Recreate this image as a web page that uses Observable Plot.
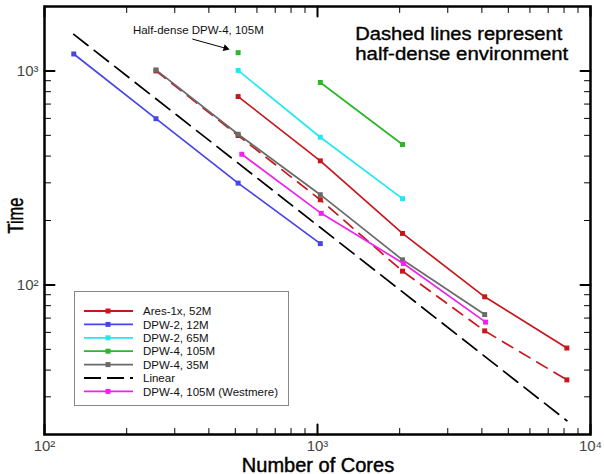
<!DOCTYPE html>
<html><head><meta charset="utf-8">
<script src="https://cdn.jsdelivr.net/npm/d3@7"></script>
<script src="https://cdn.jsdelivr.net/npm/@observablehq/plot@0.6"></script>
<style>
body{margin:0;background:#fff;font-family:"Liberation Sans",Arial,sans-serif}
#wrap{position:relative;width:604px;height:474px;overflow:hidden}
#legend{position:absolute;left:74px;top:291px}
</style></head><body><div id="wrap"></div>
<script>
// ---- data ----
const aresCores = [512, 1024, 2048, 4096, 8192];
const aresTime = [759, 380, 174, 88, 50.7];
const aresHalfCores = [256, 512, 1024, 2048, 4096, 8192];
const aresHalfTime = [1000, 499, 250, 116, 61, 36];
const dpw2_12Cores = [128, 256, 512, 1024];
const dpw2_12Time = [1200, 598, 299, 156];
const dpw2_65Cores = [512, 1024, 2048];
const dpw2_65Time = [1005, 490, 253];
const dpw4_105Cores = [1024, 2048];
const dpw4_105Time = [883, 453];
const dpw4_105HalfCores = [512];
const dpw4_105HalfTime = [1217];
const dpw4_35Cores = [256, 512, 1024, 2048, 4096];
const dpw4_35Time = [1011, 506, 264, 131, 72.7];
const linearCores = [128, 8192];
const linearTime = [1482, 23.2];
const westCores = [528, 1032, 2064, 4128];
const westTime = [408, 216, 126, 67];

const legendNames = ["Ares-1x, 52M", "DPW-2, 12M", "DPW-2, 65M", "DPW-4, 105M", "DPW-4, 35M", "Linear", "DPW-4, 105M (Westmere)"];
const legendColors = ["#c8161d", "#4646e6", "#22e8f2", "#28b828", "#6a6a6a", "#000000", "#ee22ee"];

const xMajor = [100, 1000, 10000];
const xMinor = [200, 300, 400, 500, 600, 700, 800, 900, 2000, 3000, 4000, 5000, 6000, 7000, 8000, 9000];
const yMajor = [100, 1000];
const yMinor = [20, 30, 40, 50, 60, 70, 80, 90, 200, 300, 400, 500, 600, 700, 800, 900];
const supers = {"2": "\u00b2", "3": "\u00b3", "4": "\u2074"};

const xTitle = "Number of Cores";
const yTitle = "Time";
const annoLine1 = "Dashed lines represent";
const annoLine2 = "half-dense environment";
const annoLine1Pos = {x: 1375, y: 1486};
const annoLine2Pos = {x: 1375, y: 1200};
const annoHalf = "Half-dense DPW-4, 105M";
const annoHalfPos = {x: 366, y: 1551};
const arrowFrom = {x: 348, y: 1409};
const arrowTo = {x: 455, y: 1282};
const arrowHeadPos = {x: 461, y: 1276};

// ---- series table ----
const series = [
  {cores: aresCores, time: aresTime, color: legendColors[0], dash: null, marker: true},
  {cores: aresHalfCores, time: aresHalfTime, color: legendColors[0], dash: "12,8", marker: true},
  {cores: dpw2_12Cores, time: dpw2_12Time, color: legendColors[1], dash: null, marker: true},
  {cores: dpw2_65Cores, time: dpw2_65Time, color: legendColors[2], dash: null, marker: true},
  {cores: dpw4_105Cores, time: dpw4_105Time, color: legendColors[3], dash: null, marker: true},
  {cores: dpw4_105HalfCores, time: dpw4_105HalfTime, color: legendColors[3], dash: null, marker: true},
  {cores: dpw4_35Cores, time: dpw4_35Time, color: legendColors[4], dash: null, marker: true},
  {cores: linearCores, time: linearTime, color: legendColors[5], dash: "18,8", marker: false},
  {cores: westCores, time: westTime, color: legendColors[6], dash: null, marker: true}
];

const tickLine = {draw(context, l) { context.moveTo(0, 0); context.lineTo(0, -l); }};
const fmt = d => "10" + supers[String(Math.round(Math.log10(d)))];

const marks = [];
for (const s of series) {
  const rows = s.cores.map((c, i) => ({cores: c, time: s.time[i]}));
  if (rows.length > 1) marks.push(Plot.line(rows, {x: "cores", y: "time", stroke: s.color, strokeWidth: 1.7, strokeDasharray: s.dash || undefined}));
  if (s.marker) marks.push(Plot.dot(rows, {x: "cores", y: "time", symbol: "square", r: 2.8, fill: s.color, stroke: "none"}));
}
const tickStyle = (w) => ({anchor: "start", shape: tickLine, stroke: "#000", strokeWidth: w});
const annoStyle = {textAnchor: "start", lineAnchor: "middle", fontSize: 17.5, fill: "#000", stroke: "#000", strokeWidth: 0.35};
marks.push(
  Plot.link([0], {x1: () => arrowFrom.x, y1: () => arrowFrom.y, x2: () => arrowTo.x, y2: () => arrowTo.y, stroke: "#000", strokeWidth: 1}),
  Plot.dot([0], {x: () => arrowHeadPos.x, y: () => arrowHeadPos.y, symbol: "triangle2", r: 3.4, fill: "#000", stroke: "none", rotate: 106}),
  Plot.text([annoHalf], {x: () => annoHalfPos.x, y: () => annoHalfPos.y, text: d => d, fontSize: 11.5, fill: "#111"}),
  Plot.text([annoLine1], {x: () => annoLine1Pos.x, y: () => annoLine1Pos.y, text: d => d, className: "anno1", ...annoStyle}),
  Plot.text([annoLine2], {x: () => annoLine2Pos.x, y: () => annoLine2Pos.y, text: d => d, className: "anno2", ...annoStyle}),
  Plot.frame({stroke: "#000", strokeWidth: 2.5}),
  // inward ticks on all four sides
  Plot.vector(xMajor, {x: d => d, frameAnchor: "bottom", rotate: 0, length: 10, ...tickStyle(2)}),
  Plot.vector(xMinor, {x: d => d, frameAnchor: "bottom", rotate: 0, length: 6, ...tickStyle(1)}),
  Plot.vector(xMajor, {x: d => d, frameAnchor: "top", rotate: 180, length: 10, ...tickStyle(2)}),
  Plot.vector(xMinor, {x: d => d, frameAnchor: "top", rotate: 180, length: 6, ...tickStyle(1)}),
  Plot.vector(yMajor, {y: d => d, frameAnchor: "left", rotate: 90, length: 10, ...tickStyle(2)}),
  Plot.vector(yMinor, {y: d => d, frameAnchor: "left", rotate: 90, length: 6, ...tickStyle(1)}),
  Plot.vector(yMajor, {y: d => d, frameAnchor: "right", rotate: -90, length: 10, ...tickStyle(2)}),
  Plot.vector(yMinor, {y: d => d, frameAnchor: "right", rotate: -90, length: 6, ...tickStyle(1)}),
  Plot.axisX({ticks: xMajor, tickSize: 0, tickPadding: 6, tickFormat: fmt, fontSize: 15, fill: "#444", label: null}),
  Plot.axisY({ticks: yMajor, tickSize: 0, tickPadding: 6, tickFormat: fmt, fontSize: 15, fill: "#444", label: null})
);

const chart = Plot.plot({
  width: 604, height: 474,
  marginTop: 6, marginBottom: 40, marginLeft: 44, marginRight: 14,
  style: {fontFamily: "Liberation Sans, Arial, sans-serif", background: "#fff", color: "#000"},
  x: {type: "log", domain: [100, 10000]},
  y: {type: "log", domain: [20, 2000]},
  marks
});
const wrap = document.getElementById("wrap");
wrap.appendChild(chart);

const svg = d3.select(chart);
// stretch the annotation lines to the reference's width
svg.selectAll(".anno1 text").attr("textLength", 207).attr("lengthAdjust", "spacingAndGlyphs");
svg.selectAll(".anno2 text").attr("textLength", 213).attr("lengthAdjust", "spacingAndGlyphs");

// axis titles
svg.append("text").attr("x", 318).attr("y", 471.5).attr("text-anchor", "middle")
  .attr("font-size", 20).attr("fill", "#000").attr("stroke", "#000").attr("stroke-width", 0.45)
  .text(xTitle);
svg.append("text").attr("transform", "translate(22.5,215.5) rotate(-90)").attr("text-anchor", "middle")
  .attr("font-size", 22).attr("textLength", 36).attr("lengthAdjust", "spacingAndGlyphs")
  .attr("fill", "#000").attr("stroke", "#000").attr("stroke-width", 0.45)
  .text(yTitle);

// ---- legend overlay ----
const lw = 215, lh = 115, rowH = 13.4;
const leg = d3.select(wrap).append("svg").attr("id", "legend").attr("width", lw).attr("height", lh);
leg.append("rect").attr("x", 0.5).attr("y", 0.5).attr("width", lw - 1).attr("height", lh - 1).attr("fill", "#fff").attr("stroke", "#888");
legendNames.forEach((name, i) => {
  const y = 20 + i * rowH;
  const g = leg.append("g");
  const isLinear = name === "Linear";
  g.append("line").attr("x1", 10).attr("x2", 59).attr("y1", y).attr("y2", y)
    .attr("stroke", legendColors[i]).attr("stroke-width", 1.8)
    .attr("stroke-dasharray", isLinear ? "17,6" : null);
  if (!isLinear) g.append("rect").attr("x", 31.5).attr("y", y - 2.5).attr("width", 5).attr("height", 5).attr("fill", legendColors[i]);
  g.append("text").attr("x", 69).attr("y", y).attr("dy", "0.36em").attr("font-size", 11.5).attr("fill", "#111").text(name);
});
</script></body></html>
